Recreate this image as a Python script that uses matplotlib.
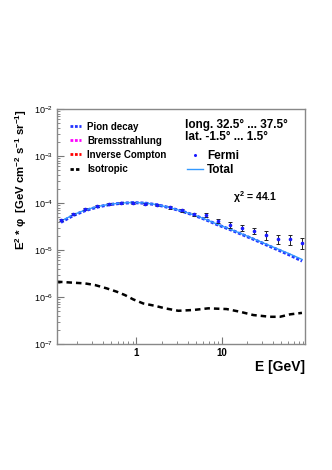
import matplotlib
matplotlib.use("Agg")
import matplotlib.pyplot as plt
from matplotlib.lines import Line2D
from matplotlib.ticker import LogLocator, FixedLocator, FixedFormatter, NullFormatter
import numpy as np

plt.rcParams['font.family'] = ['Liberation Sans', 'DejaVu Sans']
plt.rcParams['mathtext.fontset'] = 'custom'
plt.rcParams['mathtext.rm'] = 'Liberation Sans'
plt.rcParams['mathtext.it'] = 'Liberation Sans:italic'
plt.rcParams['mathtext.bf'] = 'Liberation Sans:bold'
plt.rcParams['mathtext.default'] = 'regular'

# Fermi data points (E in GeV, E^2 * phi)
fermi_energy = [0.130, 0.180, 0.250, 0.346, 0.479, 0.663, 0.918, 1.27, 1.76, 2.44, 3.37,
                4.67, 6.47, 8.95, 12.4, 17.2, 23.8, 32.9, 45.5, 63.1, 87.3]
fermi_flux = [4.35e-5, 5.75e-5, 7.35e-5, 8.6e-5, 9.5e-5, 1.0e-4, 1.01e-4, 9.7e-5, 9.1e-5,
              8.1e-5, 7.0e-5, 5.8e-5, 5.5e-5, 4.1e-5, 3.45e-5, 2.98e-5, 2.54e-5, 2.08e-5,
              1.74e-5, 1.71e-5, 1.41e-5]
fermi_relerr = [0.05, 0.05, 0.05, 0.05, 0.05, 0.05, 0.05, 0.05, 0.05, 0.07, 0.07,
                0.07, 0.10, 0.10, 0.13, 0.14, 0.14, 0.20, 0.23, 0.25, 0.27]

# model curves at the same energies
total_flux = [4.1e-5, 5.6e-5, 7.1e-5, 8.4e-5, 9.4e-5, 1.0e-4, 1.03e-4, 1.0e-4, 9.2e-5,
              8.0e-5, 6.8e-5, 5.6e-5, 4.5e-5, 3.5e-5, 2.8e-5, 2.2e-5, 1.72e-5, 1.34e-5,
              1.05e-5, 8.2e-6, 6.3e-6]
pion_flux = [3.89e-5, 5.4e-5, 6.9e-5, 8.2e-5, 9.25e-5, 9.9e-5, 1.02e-4, 9.93e-5, 9.14e-5,
             7.95e-5, 6.75e-5, 5.55e-5, 4.44e-5, 3.44e-5, 2.75e-5, 2.15e-5, 1.68e-5, 1.30e-5,
             1.01e-5, 7.77e-6, 5.84e-6]

# isotropic background
iso_energy = [0.117, 0.249, 0.326, 0.447, 0.586, 0.733, 0.917, 1.20, 1.65, 2.16, 3.09,
              4.63, 6.95, 11.4, 16.3, 23.4, 36.7, 48.1, 63.0, 87.0]
iso_flux = [2.12e-6, 1.95e-6, 1.80e-6, 1.53e-6, 1.30e-6, 1.10e-6, 8.9e-7, 7.3e-7, 6.5e-7,
            5.75e-7, 5.1e-7, 5.3e-7, 5.75e-7, 5.55e-7, 4.87e-7, 4.14e-7, 3.8e-7, 3.8e-7,
            4.28e-7, 4.6e-7]

fig = plt.figure(figsize=(3.32, 4.70), dpi=100)
ax = fig.add_axes([0.1717, 0.268, 0.747, 0.500])

ax.plot(iso_energy, iso_flux, color='black', linestyle=(0, (2.2, 1.6)), linewidth=1.8)
ax.plot(fermi_energy, pion_flux, color='#2233ff', linestyle=(0, (1, 0.6)), linewidth=2.2)
ax.plot(fermi_energy, total_flux, color='#3399ff', linewidth=1.0)

yerr = np.array(fermi_flux) * np.array(fermi_relerr)
ax.errorbar(fermi_energy, fermi_flux, yerr=yerr, fmt='o', markersize=1.6,
            markerfacecolor='#1a1aff', markeredgecolor='#1a1aff', ecolor='#222222',
            elinewidth=0.7, capsize=1.3, capthick=0.7)

ax.set_xscale('log')
ax.set_yscale('log')
ax.set_xlim(0.117, 94.5)
ax.set_ylim(1e-7, 1e-2)

ax.xaxis.set_major_locator(FixedLocator([1, 10]))
ax.xaxis.set_major_formatter(FixedFormatter(['1', '10']))
ax.xaxis.set_minor_locator(LogLocator(base=10, subs=np.arange(2, 10)))
ax.xaxis.set_minor_formatter(NullFormatter())
ax.yaxis.set_major_locator(LogLocator(base=10, numticks=10))
ax.yaxis.set_minor_locator(LogLocator(base=10, subs=np.arange(2, 10), numticks=10))
ax.yaxis.set_minor_formatter(NullFormatter())

ax.tick_params(which='both', direction='in', top=False, right=False, color='#777777')
ax.tick_params(which='major', length=5, width=0.8)
ax.tick_params(which='minor', length=2.5, width=0.6)
ax.tick_params(axis='y', labelsize=6.5, pad=3)
ax.tick_params(axis='x', labelsize=7, pad=3)
for lab in ax.get_xticklabels():
    lab.set_fontweight('bold')
for sp in ax.spines.values():
    sp.set_color('#888888')
    sp.set_linewidth(1.0)

ax.set_xlabel('E [GeV]', fontsize=10, fontweight='bold', loc='right', labelpad=1)
ax.set_ylabel('E$^{2}$ * \u03c6  [GeV cm$^{-2}$ s$^{-1}$ sr$^{-1}$]', fontsize=8.2,
              fontweight='bold', loc='top', labelpad=3.5)

h1 = [Line2D([], [], color='#2233ff', linestyle=(0, (1, 0.6)), linewidth=2.0),
      Line2D([], [], color='#ff00ff', linestyle=(0, (1, 0.6)), linewidth=2.0),
      Line2D([], [], color='#ff0000', linestyle=(0, (1, 0.6)), linewidth=2.0),
      Line2D([], [], color='black', linestyle=(0, (1.2, 0.8)), linewidth=2.0)]
leg1 = ax.legend(h1, ['Pion decay', 'Bremsstrahlung', 'Inverse Compton', 'Isotropic'],
                 loc='upper left', bbox_to_anchor=(0.025, 0.975), frameon=False,
                 prop={'size': 7, 'weight': 'bold'}, handlelength=1.15, handletextpad=0.6,
                 labelspacing=0.42, borderpad=0.2)
ax.add_artist(leg1)

h2 = [Line2D([], [], color='#1a1aff', marker='o', markersize=1.2, linestyle='none'),
      Line2D([], [], color='#3399ff', linewidth=1.0)]
ax.legend(h2, ['Fermi', 'Total'], loc='upper left', bbox_to_anchor=(0.49, 0.86),
          frameon=False, prop={'size': 8.5, 'weight': 'bold'}, handlelength=1.4,
          handletextpad=0.3, labelspacing=0.15, borderpad=0.2)

ax.text(0.515, 0.93, 'long. 32.5\u00b0 ... 37.5\u00b0', transform=ax.transAxes,
        fontsize=8.5, fontweight='bold', va='center')
ax.text(0.515, 0.88, 'lat. -1.5\u00b0 ... 1.5\u00b0', transform=ax.transAxes,
        fontsize=8.5, fontweight='bold', va='center')
ax.text(0.71, 0.625, '$\\chi^{2}$ = 44.1', transform=ax.transAxes,
        fontsize=7.5, fontweight='bold', va='center')

fig.savefig('out.png', dpi=100)
